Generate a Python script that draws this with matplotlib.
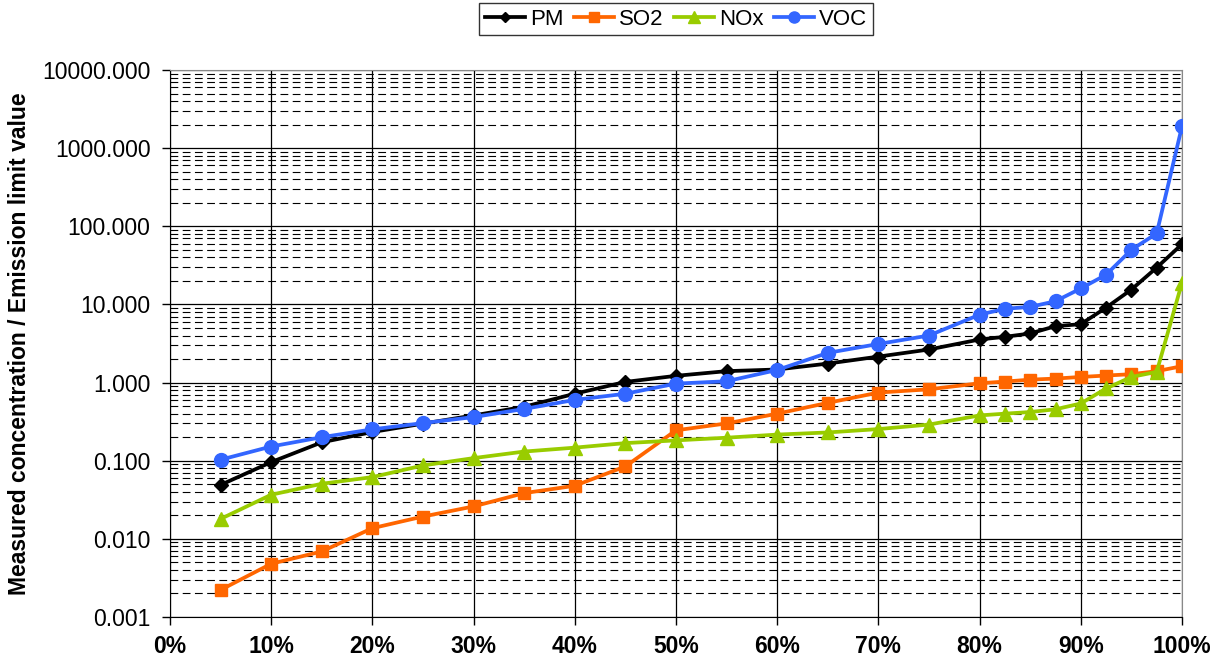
import matplotlib
matplotlib.use("Agg")
import matplotlib.pyplot as plt
from matplotlib.ticker import FixedLocator, FuncFormatter, NullFormatter

plt.rcParams['font.family'] = ['Liberation Sans', 'DejaVu Sans']

# cumulative share of measurements (%)
share = [5, 10, 15, 20, 25, 30, 35, 40, 45, 50, 55, 60, 65, 70, 75, 80,
         82.5, 85, 87.5, 90, 92.5, 95, 97.5, 100]

pm = [0.049, 0.096, 0.172, 0.233, 0.298, 0.38, 0.49, 0.72, 1.02, 1.22, 1.40, 1.47,
      1.75, 2.15, 2.65, 3.56, 3.85, 4.25, 5.27, 5.59, 9.1, 15.5, 29.6, 59.0]
so2 = [0.00222, 0.0048, 0.0069, 0.0137, 0.0193, 0.026, 0.0385, 0.0478, 0.0845, 0.245,
       0.30, 0.40, 0.55, 0.745, 0.82, 0.98, 1.03, 1.09, 1.125, 1.18, 1.23, 1.28, 1.40, 1.62]
nox = [0.018, 0.0367, 0.0507, 0.0617, 0.087, 0.108, 0.131, 0.147, 0.168, 0.182,
       0.197, 0.216, 0.23, 0.254, 0.29, 0.38, 0.40, 0.42, 0.455, 0.54, 0.84, 1.18, 1.37, 19.0]
voc = [0.103, 0.152, 0.20, 0.252, 0.303, 0.362, 0.46, 0.60, 0.72, 0.97,
       1.04, 1.45, 2.4, 3.12, 4.0, 7.4, 8.8, 9.3, 11.0, 16.0, 24.0, 50.0, 81.0, 1900.0]

y_major = [0.001, 0.01, 0.1, 1, 10, 100, 1000, 10000]

series = [
    ("PM", pm, "#000000", "D", 7),
    ("SO2", so2, "#FF6600", "s", 9),
    ("NOx", nox, "#99CC00", "^", 10),
    ("VOC", voc, "#3366FF", "o", 10),
]

fig = plt.figure(figsize=(12.22, 6.65), dpi=100)
fig.set_facecolor("white")
ax = fig.add_axes([170/1222, 1-617/665, 1012/1222, 547/665])

for name, vals, col, mk, ms in series:
    ax.plot(share, vals, color=col, marker=mk, markersize=ms, linewidth=2.7,
            markeredgecolor=col, label=name, zorder=3)

ax.set_yscale("log")
ax.set_ylim(0.001, 10000)
ax.set_xlim(0, 100)

y_minor = [d * k for d in y_major[:-1] for k in range(2, 10)]
ax.yaxis.set_major_locator(FixedLocator(y_major))
ax.yaxis.set_minor_locator(FixedLocator(y_minor))
ax.yaxis.set_minor_formatter(NullFormatter())
ax.yaxis.set_major_formatter(FuncFormatter(lambda v, p: f"{v:.3f}"))
ax.xaxis.set_major_locator(FixedLocator(range(0, 101, 10)))
ax.xaxis.set_major_formatter(FuncFormatter(lambda v, p: f"{int(round(v))}%"))

ax.grid(True, which="major", axis="both", color="black", linewidth=0.9, zorder=1)
ax.grid(True, which="minor", axis="y", color="black", linewidth=0.8,
        linestyle=(0, (7, 4)), zorder=1)
ax.set_axisbelow(True)

ax.tick_params(axis="both", which="major", direction="out", length=6, width=1,
               labelsize=16.5, color="black")
ax.tick_params(axis="y", which="minor", length=0)
ax.tick_params(axis="y", pad=8)
ax.tick_params(axis="x", pad=7)
for lab in ax.get_xticklabels():
    lab.set_fontweight("bold")

for side in ["top", "right"]:
    ax.spines[side].set_color("#888888")
for side in ["left", "bottom"]:
    ax.spines[side].set_color("black")

ax.set_ylabel("Measured concentration / Emission limit value", fontsize=16.5,
              fontweight="bold")
ax.yaxis.set_label_coords(-0.137, 0.5)

leg = fig.legend(loc="upper center", bbox_to_anchor=(676/1222, 0.995), ncol=4,
                 fontsize=16, frameon=True, fancybox=False, edgecolor="black",
                 handlelength=1.8, handletextpad=0.25, columnspacing=0.45,
                 borderpad=0.25, borderaxespad=0.0, markerscale=0.8)
leg.get_frame().set_linewidth(1.0)

plt.savefig("out.png", dpi=100)
plt.close()
